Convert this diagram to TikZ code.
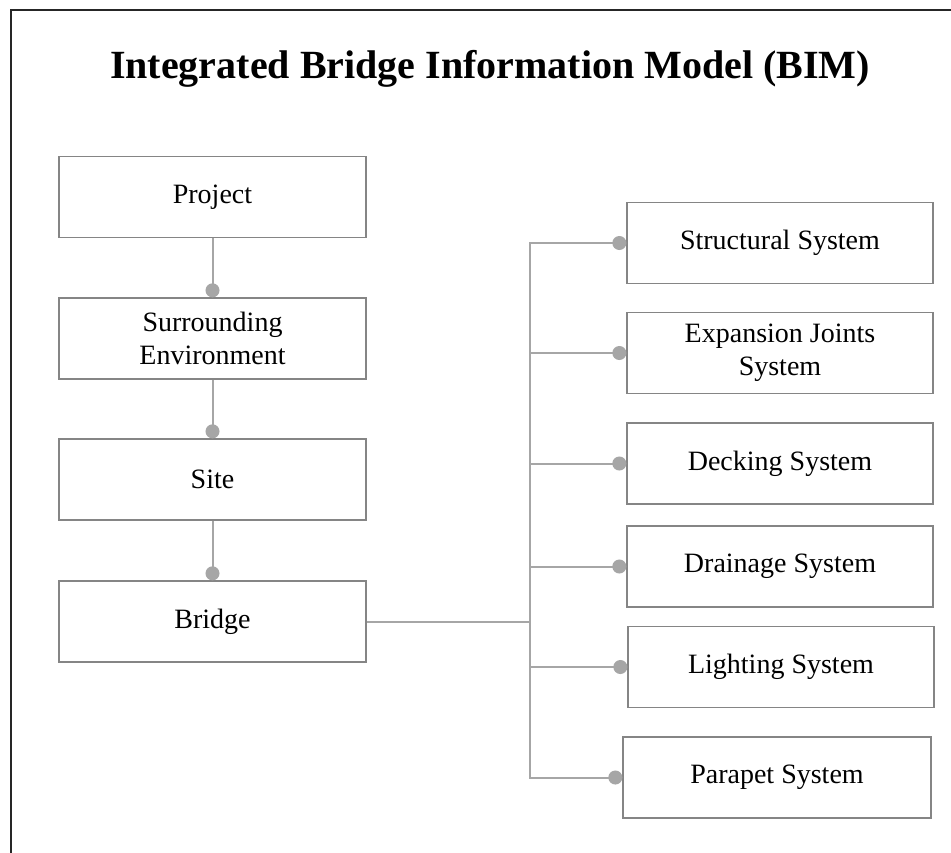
\documentclass[tikz,border=0pt]{standalone}
\usepackage{fontspec}
\setmainfont{Liberation Serif}
\usetikzlibrary{arrows.meta}
\definecolor{boxgray}{HTML}{858585}
\definecolor{linegray}{HTML}{A6A6A6}
\tikzset{
  box/.style={draw=boxgray, line width=1.3pt, fill=white, inner sep=0pt,
    minimum height=81pt, align=center, font=\fontsize{28}{33}\selectfont},
  lbox/.style={box, minimum width=307pt},
  rbox/.style={box, minimum width=306pt},
  conn/.style={draw=linegray, line width=2pt, -{Circle[length=14pt,width=14pt]}},
  plain/.style={draw=linegray, line width=2pt},
}
\begin{document}
\begin{tikzpicture}[x=1pt,y=-1pt]
\useasboundingbox (0,0) rectangle (951,852);
\draw[line width=2.2pt, black!85] (11,853) -- (11,10) -- (952,10);
\node[font=\fontsize{40}{48}\selectfont\bfseries] (title) at (490,69) {Integrated Bridge Information Model (BIM)};

\node[lbox] (project) at (212.5,197) {Project};
\node[lbox] (env) at (212.5,338.5) {Surrounding\\Environment};
\node[lbox] (site) at (212.5,479.5) {Site};
\node[lbox] (bridge) at (212.5,621.5) {Bridge};

\node[rbox] (s1) at (780,243) {Structural System};
\node[rbox] (s2) at (780,353) {Expansion Joints\\System};
\node[rbox] (s3) at (780,463.5) {Decking System};
\node[rbox] (s4) at (780,566.5) {Drainage System};
\node[rbox] (s5) at (781,667) {Lighting System};
\node[rbox, minimum width=308pt] (s6) at (777,777.5) {Parapet System};

\draw[conn] (project.south) -- (env.north);
\draw[conn] (env.south) -- (site.north);
\draw[conn] (site.south) -- (bridge.north);

\coordinate (j) at (530,621.5);
\draw[plain] (bridge.east) -- (j);
\foreach \s in {s1,s2,s3,s4,s5,s6}{
  \draw[conn] (j) |- (\s.west);
}
\end{tikzpicture}
\end{document}
